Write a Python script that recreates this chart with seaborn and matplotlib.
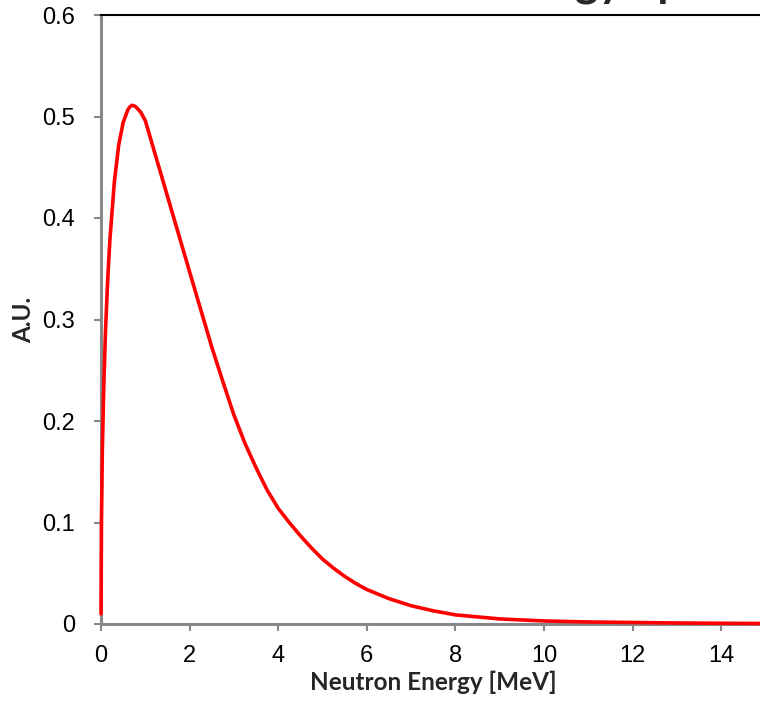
import matplotlib
matplotlib.use("Agg")
import matplotlib.pyplot as plt
import seaborn as sns
import pandas as pd

# Fission neutron energy spectrum (arbitrary units)
energy_mev = [0, 0.01, 0.03, 0.06, 0.1, 0.15, 0.2, 0.3, 0.4, 0.5, 0.6, 0.65,
              0.7, 0.75, 0.8, 0.9, 1.0, 2.0, 2.25, 2.5, 2.75, 3.0, 3.25, 3.5,
              3.75, 4.0, 4.25, 4.5, 4.75, 5.0, 5.25, 5.5, 5.75, 6.0, 6.5, 7.0,
              7.5, 8, 9, 10, 11, 12, 13, 14, 15]
intensity_au = [0.010, 0.10, 0.17, 0.23, 0.287, 0.338, 0.378, 0.435, 0.472,
                0.494, 0.506, 0.5095, 0.511, 0.5105, 0.509, 0.504, 0.496,
                0.347, 0.310, 0.273, 0.239, 0.206, 0.178, 0.154, 0.132, 0.114,
                0.100, 0.087, 0.075, 0.064, 0.055, 0.047, 0.040, 0.034, 0.025,
                0.018, 0.013, 0.009, 0.005, 0.003, 0.002, 0.0015, 0.001,
                0.0007, 0.0005]

x_ticks = [0, 2, 4, 6, 8, 10, 12, 14]
y_ticks = [0, 0.1, 0.2, 0.3, 0.4, 0.5, 0.6]
y_tick_labels = ["0", "0.1", "0.2", "0.3", "0.4", "0.5", "0.6"]

title_text = "Neutron Energy Spectrum"
x_label = "Neutron Energy [MeV]"
y_label = "A.U."

sns.set_style("white")
plt.rcParams["font.family"] = ["Liberation Sans", "DejaVu Sans"]

df = pd.DataFrame({"energy": energy_mev, "au": intensity_au})

W, H = 760, 706
fig = plt.figure(figsize=(W / 100, H / 100), dpi=100)
ax = fig.add_axes([101 / W, 82 / H, 664.4 / W, 609 / H])

sns.lineplot(data=df, x="energy", y="au", color="#FF0000", linewidth=2.6,
             ax=ax, zorder=4, clip_on=False)

ax.set_xlim(0, 15)
ax.set_ylim(0, 0.6)
ax.set_xticks(x_ticks)
ax.set_xticklabels([str(v) for v in x_ticks])
ax.set_yticks(y_ticks)
ax.set_yticklabels(y_tick_labels)

gray = "#888888"
for side in ("left", "bottom"):
    ax.spines[side].set_color(gray)
    ax.spines[side].set_linewidth(2.2)
ax.spines["top"].set_color("black")
ax.spines["top"].set_linewidth(1.5)
ax.spines["right"].set_visible(False)

ax.tick_params(axis="both", which="major", direction="out", length=5,
               width=1.5, color=gray, labelsize=17, labelcolor="black")
ax.tick_params(axis="y", pad=13.5, left=True)
ax.tick_params(axis="x", pad=10, bottom=True)

label_font = dict(family=["Lato", "DejaVu Sans"], weight="bold", fontsize=17.5)
ax.set_xlabel(x_label, **label_font)
ax.set_ylabel(y_label, **label_font)
ax.xaxis.set_label_coords(0.5, (624 - 671) / 609)
ax.yaxis.set_label_coords((35 - 101) / 664.4, 0.5)

# Chart title sits above the top edge; place "gy" of "Energy" near x=575 px
renderer = fig.canvas.get_renderer()
title_font = dict(family=["Lato", "DejaVu Sans"], weight="bold", fontsize=32)
probe = fig.text(0, 0, "Neutron Ener", **title_font)
prefix_w = probe.get_window_extent(renderer).width
probe.remove()
fig.text((575 - prefix_w) / W, 1 + 3 / H, title_text, ha="left",
         va="baseline", **title_font)

fig.savefig("out.png", dpi=100)
